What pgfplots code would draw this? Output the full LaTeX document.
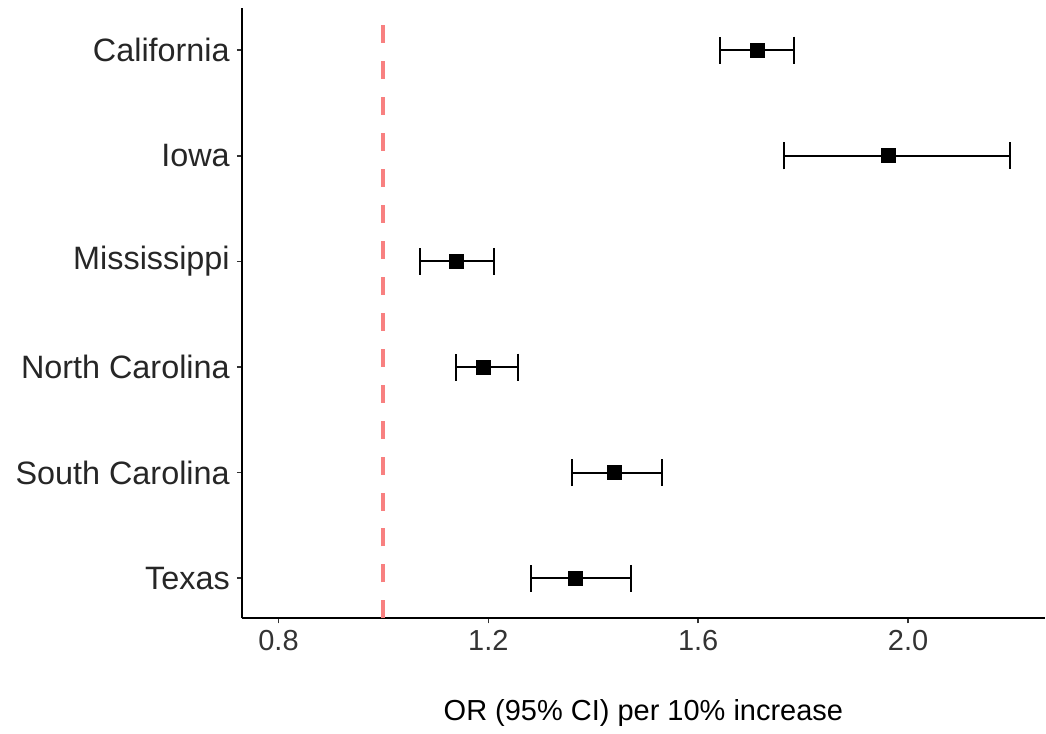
\documentclass[border=0pt]{standalone}
\usepackage{pgfplots}
\pgfplotsset{compat=1.18}
\usepackage{pgfplotstable}
\usepackage{fontspec}
\setmainfont{Liberation Sans}

\definecolor{refline}{RGB}{248,128,128}

% state estimates: position, OR, lower and upper CI
\pgfplotstableread{
pos or   lo    hi
6   1.712 1.641 1.782
5   1.962 1.763 2.195
4   1.139 1.069 1.211
3   1.190 1.139 1.257
2   1.440 1.360 1.531
1   1.366 1.281 1.472
}\ortable

\begin{document}
\begin{tikzpicture}
\begin{axis}[
    scale only axis,
    width=402pt,
    height=305.5pt,
    xmin=0.73, xmax=2.261,
    ymin=0.62, ymax=6.4,
    axis x line*=bottom,
    axis y line*=left,
    axis line style={line width=1pt},
    xtick={0.8,1.2,1.6,2.0},
    xticklabels={0.8,1.2,1.6,2.0},
    ytick={1,2,3,4,5,6},
    yticklabels={Texas,South Carolina,North Carolina,Mississippi,Iowa,California},
    tick align=outside,
    major tick length=2.5pt,
    tick style={line width=0.8pt, black!80},
    xticklabel style={font=\fontsize{14.5}{16}\selectfont, text=black!80},
    yticklabel style={font=\fontsize{16.2}{18}\selectfont, text=black!85},
    xlabel={OR (95\% CI) per 10\% increase},
    xlabel style={font=\fontsize{14.5}{16}\selectfont, yshift=-17.5pt},
    clip=false,
]
\addplot[refline, line width=2pt, dash pattern=on 9pt off 9pt] coordinates {(1,0.62) (1,6.4)};
\addplot[
    only marks, mark=square*, mark size=3.5pt, black,
    error bars/.cd,
        x dir=both, x explicit,
        error bar style={line width=1pt, black},
        error mark=|,
        error mark options={mark size=6.75pt, line width=1pt, black},
] table[
    x=or, y=pos,
    x error plus expr=\thisrow{hi}-\thisrow{or},
    x error minus expr=\thisrow{or}-\thisrow{lo},
] {\ortable};
\end{axis}
\path (current axis.south west) ++(-121pt,-55.5pt) (current axis.north east) ++(0,4pt);
\end{tikzpicture}
\end{document}
